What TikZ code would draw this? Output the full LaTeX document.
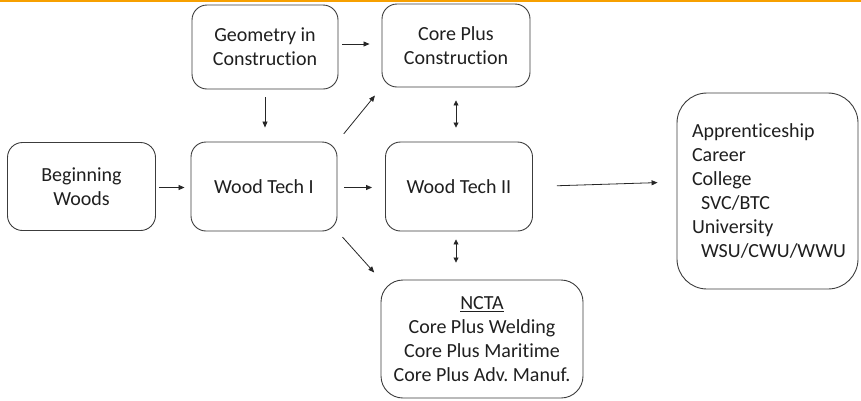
\documentclass[tikz,border=0pt]{standalone}
\usepackage{fontspec}
\setmainfont{Carlito}[Ligatures={NoCommon,NoRequired,NoContextual}]
\usetikzlibrary{arrows.meta}
\definecolor{topline}{RGB}{247,160,0}
\definecolor{edgec}{RGB}{60,60,60}
\frenchspacing
\begin{document}
\begin{tikzpicture}[x=1pt,y=-1pt,
  box/.style={draw=edgec, line width=0.9pt, rounded corners=15pt, align=center,
    inner sep=0pt, font=\fontsize{20}{24}\selectfont, text=black!88},
  arr/.style={-{Triangle[length=6pt,width=5pt]}, line width=0.8pt, draw=black!85},
  dbl/.style={{Triangle[length=5pt,width=5pt]}-{Triangle[length=5pt,width=5pt]},
    line width=0.8pt, draw=black!85}]
\useasboundingbox (0,0) rectangle (861,400);
\fill[topline] (0,0) rectangle (861,1.8);

\node[box, minimum width=146pt, minimum height=84pt] (geo) at (265,47) {Geometry in\\Construction};
\node[box, minimum width=148pt, minimum height=83pt] (cpc) at (456,45.5) {Core Plus\\Construction};
\node[box, minimum width=148pt, minimum height=88pt] (beg) at (81.5,186.5) {Beginning\\Woods};
\node[box, minimum width=146pt, minimum height=89pt] (wt1) at (264,186.5) {Wood Tech I};
\node[box, minimum width=147pt, minimum height=89pt] (wt2) at (459,186.5) {Wood Tech II};
\node[box, rounded corners=22pt, minimum width=202pt, minimum height=118pt] (ncta) at (482,339)
  {\underline{NCTA}\\Core Plus Welding\\Core Plus Maritime\\Core Plus Adv. Manuf.};
\node[box, rounded corners=30pt, align=left, text width=151pt, minimum width=181pt, minimum height=196pt] (out) at (767.5,191)
  {Apprenticeship\\Career\\College\\\hspace*{9pt}SVC/BTC\\University\\\hspace*{9pt}WSU/CWU/WWU};

\draw[arr, shorten <=4pt, shorten >=12pt] ([yshift=3pt]geo.east) -- ([yshift=1.5pt]cpc.west);
\draw[arr, shorten <=8pt, shorten >=14pt] (geo.south) -- (geo.south |- wt1.north);
\draw[arr, shorten <=10pt, shorten >=10.5pt] (wt1.north east) -- (cpc.south west);
\draw[dbl, shorten <=13pt, shorten >=14pt] (cpc.south) -- (cpc.south |- wt2.north);
\draw[arr, shorten <=3pt, shorten >=6pt] ([yshift=-1pt]beg.east) -- ([yshift=-1pt]wt1.west);
\draw[arr, shorten <=7pt, shorten >=13pt] ([yshift=-1pt]wt1.east) -- ([yshift=-1pt]wt2.west);
\draw[arr, shorten <=24pt, shorten >=19pt] (wt2.east) -- ([yshift=9pt]out.west);
\draw[arr, shorten <=7.5pt, shorten >=9.5pt] (wt1.south east) -- (ncta.north west);
\draw[dbl, shorten <=8pt, shorten >=17pt] (cpc.south |- wt2.south) -- (cpc.south |- ncta.north);
\end{tikzpicture}
\end{document}
